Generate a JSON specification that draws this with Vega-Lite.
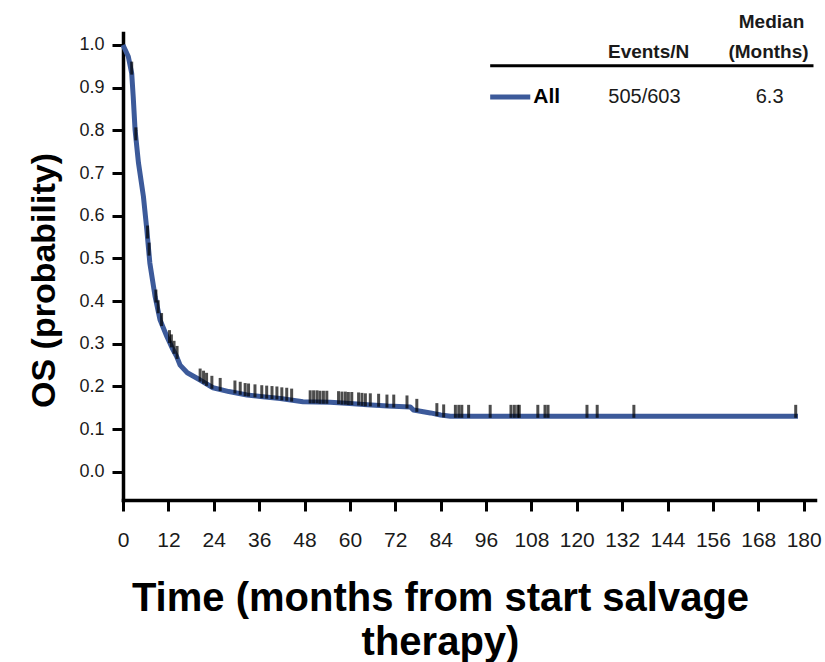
{
  "$schema": "https://vega.github.io/schema/vega-lite/v6.json",
  "width": 692,
  "height": 467,
  "autosize": {"type": "none"},
  "padding": {"left": 123, "top": 33, "right": 10, "bottom": 162},
  "background": "white",
  "config": {
    "view": {"stroke": null},
    "font": "Liberation Sans",
    "axis": {"grid": false, "domainColor": "black", "domainWidth": 3.5, "domainCap": "square", "tickColor": "black", "tickWidth": 3, "tickSize": 11, "labelColor": "#1a1a1a", "labelFont": "Liberation Sans", "titleFont": "Liberation Sans", "titleColor": "black", "titleFontWeight": "bold"}
  },
  "datasets": {
    "curve": [
      {"t": 0, "s": 1.0}, {"t": 1.4, "s": 0.973}, {"t": 2.3, "s": 0.934}, {"t": 2.7, "s": 0.879},
      {"t": 3.2, "s": 0.8}, {"t": 4.1, "s": 0.723}, {"t": 5.4, "s": 0.645}, {"t": 6.3, "s": 0.567},
      {"t": 7.1, "s": 0.489}, {"t": 8.5, "s": 0.41}, {"t": 9.8, "s": 0.356}, {"t": 11.6, "s": 0.317},
      {"t": 13, "s": 0.29}, {"t": 14.2, "s": 0.27}, {"t": 15.1, "s": 0.25}, {"t": 17, "s": 0.232},
      {"t": 20.4, "s": 0.215}, {"t": 23.8, "s": 0.197}, {"t": 28, "s": 0.188}, {"t": 32.8, "s": 0.18},
      {"t": 37, "s": 0.176}, {"t": 41.6, "s": 0.172}, {"t": 47.6, "s": 0.164}, {"t": 54.8, "s": 0.163},
      {"t": 60, "s": 0.16}, {"t": 64.6, "s": 0.157}, {"t": 70, "s": 0.154}, {"t": 76, "s": 0.152},
      {"t": 76.8, "s": 0.145}, {"t": 81.3, "s": 0.138}, {"t": 84, "s": 0.133}, {"t": 86.6, "s": 0.13},
      {"t": 178.5, "s": 0.13}
    ],
    "censor": [
      {"t": 2.3, "s": 0.934}, {"t": 3.4, "s": 0.78}, {"t": 6.5, "s": 0.55}, {"t": 6.9, "s": 0.51},
      {"t": 8.7, "s": 0.4}, {"t": 9.3, "s": 0.375}, {"t": 10.2, "s": 0.345}, {"t": 12.3, "s": 0.305},
      {"t": 12.8, "s": 0.295}, {"t": 13.5, "s": 0.28}, {"t": 14.3, "s": 0.268},
      {"t": 20.4, "s": 0.215}, {"t": 21.3, "s": 0.21}, {"t": 22.1, "s": 0.205}, {"t": 23.5, "s": 0.198},
      {"t": 25.7, "s": 0.193}, {"t": 29.6, "s": 0.187}, {"t": 31.0, "s": 0.184}, {"t": 32.3, "s": 0.181},
      {"t": 33.2, "s": 0.18}, {"t": 34.9, "s": 0.178}, {"t": 36.7, "s": 0.176}, {"t": 38.0, "s": 0.175},
      {"t": 39.4, "s": 0.174}, {"t": 40.7, "s": 0.173}, {"t": 42.0, "s": 0.171}, {"t": 43.3, "s": 0.17},
      {"t": 44.6, "s": 0.168}, {"t": 49.5, "s": 0.164}, {"t": 50.4, "s": 0.164}, {"t": 51.3, "s": 0.164},
      {"t": 52.1, "s": 0.163}, {"t": 53.0, "s": 0.163}, {"t": 53.9, "s": 0.163}, {"t": 57.0, "s": 0.162},
      {"t": 57.9, "s": 0.161}, {"t": 58.8, "s": 0.161}, {"t": 59.6, "s": 0.16}, {"t": 60.5, "s": 0.16},
      {"t": 62.3, "s": 0.159}, {"t": 63.2, "s": 0.158}, {"t": 64.1, "s": 0.157}, {"t": 65.4, "s": 0.157},
      {"t": 67.6, "s": 0.156}, {"t": 69.8, "s": 0.154}, {"t": 71.6, "s": 0.154}, {"t": 75.1, "s": 0.152},
      {"t": 77.7, "s": 0.144}, {"t": 83.0, "s": 0.134}, {"t": 84.8, "s": 0.131}, {"t": 87.9, "s": 0.13},
      {"t": 88.8, "s": 0.13}, {"t": 89.6, "s": 0.13}, {"t": 91.4, "s": 0.13}, {"t": 97.1, "s": 0.13},
      {"t": 102.6, "s": 0.13}, {"t": 103.5, "s": 0.13}, {"t": 104.4, "s": 0.13}, {"t": 104.8, "s": 0.13},
      {"t": 109.7, "s": 0.13}, {"t": 111.6, "s": 0.13}, {"t": 112.4, "s": 0.13}, {"t": 122.7, "s": 0.13},
      {"t": 125.4, "s": 0.13}, {"t": 135.1, "s": 0.13}, {"t": 177.9, "s": 0.13}
    ]
  },
  "layer": [
    {
      "data": {"name": "curve"},
      "mark": {"type": "line", "color": "#3c5a9a", "strokeWidth": 5, "strokeCap": "butt", "strokeJoin": "round"},
      "encoding": {
        "x": {"field": "t", "type": "quantitative",
          "scale": {"domain": [0, 183], "nice": false, "zero": false},
          "axis": {"values": [0, 12, 24, 36, 48, 60, 72, 84, 96, 108, 120, 132, 144, 156, 168, 180],
            "labelFontSize": 21, "labelPadding": 18, "labelFlush": false,
            "title": ["Time (months from start salvage", "therapy)"],
            "titleFontSize": 40, "titleLineHeight": 44, "titleX": 317, "titleY": 110, "titleBaseline": "alphabetic", "titleAnchor": null}},
        "y": {"field": "s", "type": "quantitative",
          "scale": {"domain": [-0.066, 1.028], "nice": false, "zero": false},
          "axis": {"values": [0, 0.1, 0.2, 0.3, 0.4, 0.5, 0.6, 0.7, 0.8, 0.9, 1.0], "format": ".1f",
            "labelFontSize": 18, "labelPadding": 8, "labelFlush": false,
            "title": "OS (probability)", "titleFontSize": 34, "titleAngle": -90,
            "titleX": -69, "titleY": 247, "titleAlign": "center", "titleBaseline": "alphabetic"}}
      }
    },
    {
      "data": {"name": "censor"},
      "mark": {"type": "tick", "orient": "vertical", "color": "black", "thickness": 3, "size": 13, "yOffset": -5},
      "encoding": {
        "x": {"field": "t", "type": "quantitative"},
        "y": {"field": "s", "type": "quantitative"}
      }
    },
    {
      "data": {"values": [{"t": 97.1, "s": 0.878}, {"t": 107.7, "s": 0.878}]},
      "mark": {"type": "line", "color": "#3c5a9a", "strokeWidth": 5, "clip": false},
      "encoding": {
        "x": {"field": "t", "type": "quantitative"},
        "y": {"field": "s", "type": "quantitative"}
      }
    },
    {
      "data": {"values": [{"t": 97.1, "t2": 182.6, "s": 0.951}]},
      "mark": {"type": "rule", "color": "black", "strokeWidth": 3, "clip": false},
      "encoding": {
        "x": {"field": "t", "type": "quantitative"},
        "x2": {"field": "t2"},
        "y": {"field": "s", "type": "quantitative"}
      }
    },
    {
      "data": {"values": [
        {"t": 139, "s": 0.984, "label": "Events/N"},
        {"t": 170.7, "s": 0.984, "label": "(Months)"},
        {"t": 171.5, "s": 1.054, "label": "Median"}
      ]},
      "mark": {"type": "text", "fontSize": 19, "fontWeight": "bold", "color": "#1a1a1a", "align": "center", "baseline": "middle", "clip": false},
      "encoding": {
        "x": {"field": "t", "type": "quantitative"},
        "y": {"field": "s", "type": "quantitative"},
        "text": {"field": "label"}
      }
    },
    {
      "data": {"values": [
        {"t": 137.9, "s": 0.878, "label": "505/603"},
        {"t": 171, "s": 0.878, "label": "6.3"}
      ]},
      "mark": {"type": "text", "fontSize": 20, "color": "#1a1a1a", "align": "center", "baseline": "middle", "clip": false},
      "encoding": {
        "x": {"field": "t", "type": "quantitative"},
        "y": {"field": "s", "type": "quantitative"},
        "text": {"field": "label"}
      }
    },
    {
      "data": {"values": [{"t": 108.5, "s": 0.878, "label": "All"}]},
      "mark": {"type": "text", "fontSize": 21, "fontWeight": "bold", "color": "black", "align": "left", "baseline": "middle", "clip": false},
      "encoding": {
        "x": {"field": "t", "type": "quantitative"},
        "y": {"field": "s", "type": "quantitative"},
        "text": {"field": "label"}
      }
    }
  ]
}
